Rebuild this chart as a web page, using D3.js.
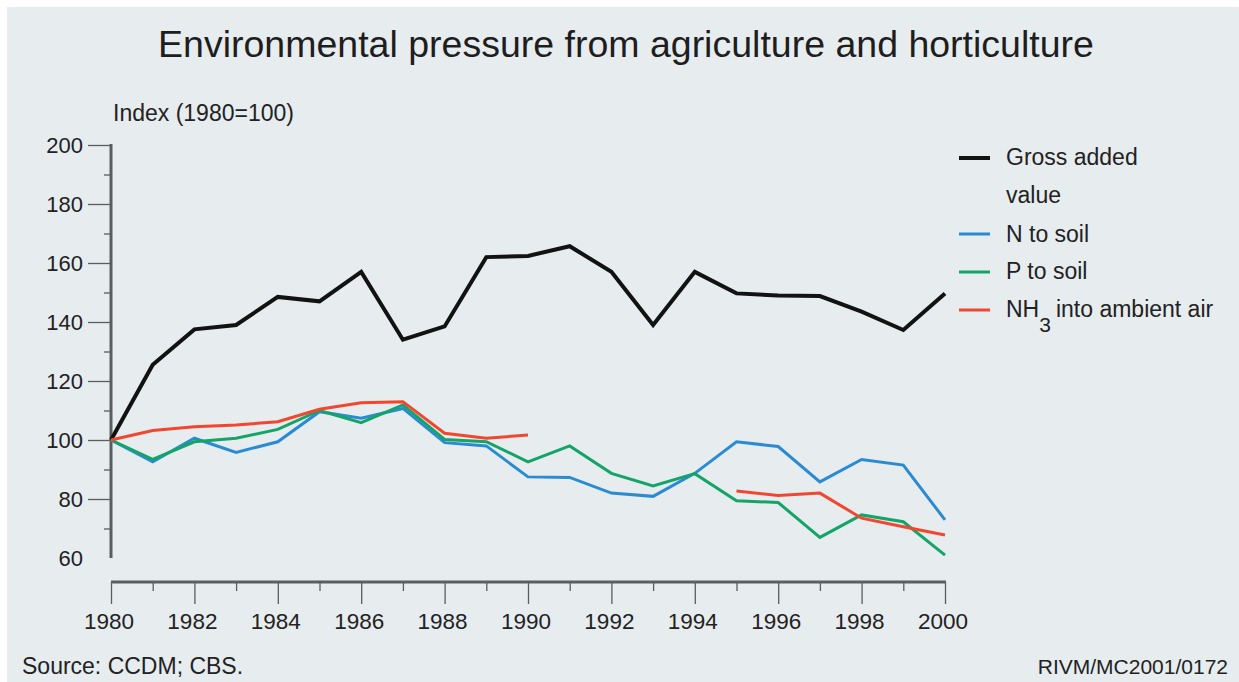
<!DOCTYPE html>
<html>
<head>
<meta charset="utf-8">
<script src="https://cdn.jsdelivr.net/npm/d3@7"></script>
<style>
  body { margin: 0; background: #fff; }
  svg { display: block; font-family: "Liberation Sans", Arial, sans-serif; }
</style>
</head>
<body>
<svg id="chart" width="1239" height="682"></svg>
<script>
// values, index 1980 = 100
const years = d3.range(1980, 2001)
const grossAdded = [100, 125.5, 137.5, 139, 148.5, 147, 157, 134, 138.5, 162, 162.4, 165.7, 157, 139, 157, 149.7, 149, 148.8, 143.5, 137.3, 149.7]
const nToSoil = [100, 92.6, 100.6, 95.8, 99.4, 109.6, 107.4, 110.7, 99.1, 98, 87.5, 87.3, 82, 80.9, 88.7, 99.4, 97.8, 85.8, 93.4, 91.5, 72.9]
const pToSoil = [100, 93.4, 99.4, 100.6, 103.6, 110, 105.9, 111.9, 100.2, 99.4, 92.6, 98, 88.7, 84.4, 88.6, 79.4, 78.8, 67, 74.6, 72.3, 61]
// NH3 has two pieces: 1980-1990 and 1995-2000
const nh3 = [100, 103.2, 104.5, 105.1, 106.2, 110.4, 112.6, 113, 102.3, 100.6, 101.7, null, null, null, null, 82.7, 81.2, 82, 73.5, 70.6, 67.8]

const yTicks = [200, 180, 160, 140, 120, 100, 80, 60]
const xTickLabels = d3.range(1980, 2001, 2)

const series = [
  { name: "Gross added value", values: grossAdded, color: "#121212", width: 4 },
  { name: "N to soil", values: nToSoil, color: "#2a8bd2", width: 3 },
  { name: "P to soil", values: pToSoil, color: "#14a468", width: 3 },
  { name: "NH3 into ambient air", values: nh3, color: "#f1462f", width: 3 }
]

const svg = d3.select("#chart")
const textColor = "#222"

// panel background
svg.append("rect")
  .attr("x", 7).attr("y", 7)
  .attr("width", 1232).attr("height", 675)
  .attr("fill", "#e7ecef")

svg.append("text")
  .attr("x", 626).attr("y", 57)
  .attr("text-anchor", "middle")
  .attr("font-size", 37.5)
  .attr("fill", "#1e1e1e")
  .text("Environmental pressure from agriculture and horticulture")

var x = d3.scaleLinear().domain([1980, 2000]).range([111, 945])
var y = d3.scaleLinear().domain([60, 200]).range([558, 145])

const axisColor = "#5a5e61"

// y axis, ticks pointing left
var yAxis = d3.axisLeft(y)
  .tickValues(d3.range(60, 201, 10))
  .tickSize(0)
  .tickFormat("")

var gy = svg.append("g").attr("transform", "translate(111,0)").call(yAxis)
gy.select(".domain").remove()
gy.append("line")
  .attr("x1", 0).attr("x2", 0)
  .attr("y1", y(200) - 1).attr("y2", y(60))
  .attr("stroke", axisColor).attr("stroke-width", 3)
gy.selectAll(".tick line")
  .attr("stroke", axisColor)
  .attr("stroke-width", 1.3)
  .attr("x2", (d) => d == 60 ? 0 : (d % 20 === 0 ? -23 : -7))
gy.selectAll(".tick text").remove()

svg.append("g").selectAll("text")
  .data(yTicks)
  .enter().append("text")
  .attr("x", 83)
  .attr("y", (d) => y(d) + 7.5)
  .attr("text-anchor", "end")
  .attr("font-size", 22)
  .attr("fill", textColor)
  .text((d) => d)

svg.append("text")
  .attr("x", 113).attr("y", 121)
  .attr("font-size", 23)
  .attr("fill", textColor)
  .text("Index (1980=100)")

// x axis sits a bit below the y axis end
var xAxis = d3.axisBottom(x)
  .tickValues(years)
  .tickSize(0)
  .tickFormat("")

var gx = svg.append("g").attr("transform", "translate(0,582)").call(xAxis)
gx.select(".domain").remove()
gx.append("line")
  .attr("x1", x(1980)).attr("x2", x(2000) + 1)
  .attr("y1", 0).attr("y2", 0)
  .attr("stroke", axisColor).attr("stroke-width", 3)
gx.selectAll(".tick line")
  .attr("stroke", axisColor)
  .attr("stroke-width", 1.3)
  .attr("y2", (d) => d % 2 === 0 ? 22 : 9)

svg.append("g").selectAll("text")
  .data(xTickLabels)
  .enter().append("text")
  .attr("x", (d) => x(d) - 2)
  .attr("y", 629)
  .attr("text-anchor", "middle")
  .attr("font-size", 22.5)
  .attr("fill", textColor)
  .text((d) => d)

// lines
var line = d3.line()
  .defined((d) => d != null)
  .x((d, i) => x(years[i]))
  .y((d) => y(d))

svg.append("g").selectAll("path")
  .data(series)
  .enter().append("path")
  .attr("d", (s) => line(s.values))
  .attr("fill", "none")
  .attr("stroke", (s) => s.color)
  .attr("stroke-width", (s) => s.width)
  .attr("stroke-linejoin", "miter")

// legend
const legendRows = [
  { s: series[0], y: 158 },
  { s: series[1], y: 234 },
  { s: series[2], y: 272 },
  { s: series[3], y: 310 }
]

var legend = svg.append("g").attr("font-size", 23).attr("fill", textColor)

legend.selectAll("line")
  .data(legendRows)
  .enter().append("line")
  .attr("x1", 959).attr("x2", 990)
  .attr("y1", (d) => d.y).attr("y2", (d) => d.y)
  .attr("stroke", (d) => d.s.color)
  .attr("stroke-width", (d) => d.s.width)

legend.append("text").attr("x", 1006).attr("y", 165).text("Gross added")
legend.append("text").attr("x", 1006).attr("y", 203).text("value")
legend.append("text").attr("x", 1006).attr("y", 242).text("N to soil")
legend.append("text").attr("x", 1006).attr("y", 279).text("P to soil")

var nhText = legend.append("text").attr("x", 1006).attr("y", 317)
nhText.append("tspan").text("NH")
nhText.append("tspan").attr("dy", 15).attr("font-size", 21).text("3")
nhText.append("tspan").attr("dy", -15).attr("dx", 5).text("into ambient  air")

// footer
svg.append("text")
  .attr("x", 22).attr("y", 674)
  .attr("font-size", 23)
  .attr("fill", textColor)
  .text("Source: CCDM; CBS.")

svg.append("text")
  .attr("x", 1228).attr("y", 674)
  .attr("text-anchor", "end")
  .attr("font-size", 21)
  .attr("fill", textColor)
  .text("RIVM/MC2001/0172")
</script>
</body>
</html>
